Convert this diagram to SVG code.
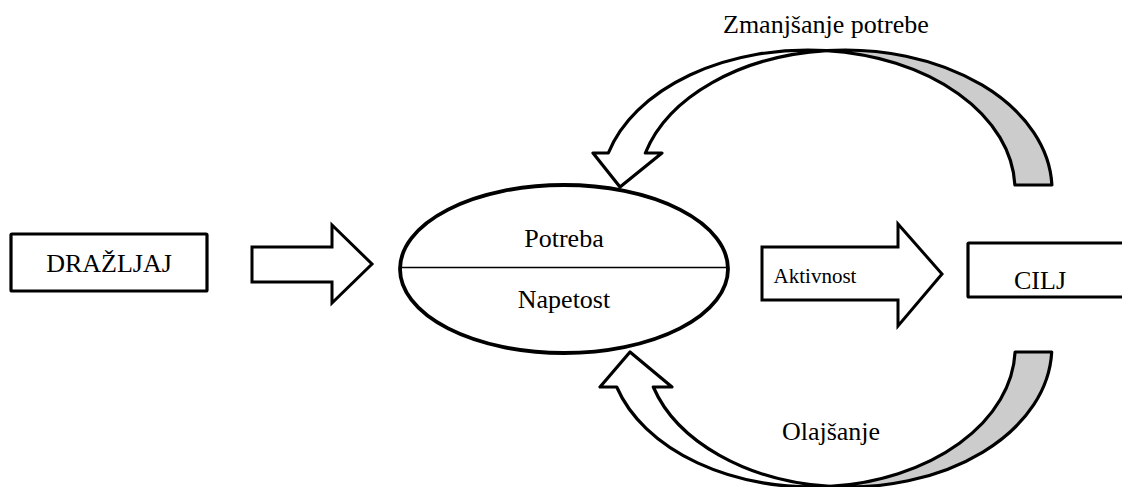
<svg xmlns="http://www.w3.org/2000/svg" width="1122" height="487" viewBox="0 0 1122 487">
<style>
.box{fill:#fff;stroke:#000;stroke-width:3.2}
.arr{fill:#fff;stroke:#000;stroke-width:3;stroke-linejoin:miter}
.front{fill:#fff;stroke:#000;stroke-width:3.2;stroke-linejoin:round}
.back{fill:#cccccc;stroke:#000;stroke-width:3.2;stroke-linejoin:round}
</style>
<rect width="1122" height="487" fill="#fff"/>
<g font-family="'Liberation Serif', 'Times New Roman', serif" font-size="26" fill="#000">
<g id="connectors">
<g id="arrow-stimulus">
<path class="arr" d="M252 247 L332 247 L332 225 L372 264 L332 303 L332 282 L252 282 Z"/>
</g>
<g id="arrow-activity">
<path class="arr" d="M762 247 L898 247 L898 224 L942 274 L898 326 L898 300 L762 300 Z"/>
<text x="815" y="283" text-anchor="middle" font-size="21">Aktivnost</text>
</g>
<g id="arrow-reduction">
<path class="back" d="M826.5 50.56 A207 140 0 0 1 1051.9 185 L1014.9 185 A207 140 0 0 0 826.5 50.56 Z"/>
<path class="front" d="M608.35 153 A207 140 0 0 1 826.5 50.56 A207 140 0 0 0 645.35 153 L662 153 L620 187 L593 153 Z"/>
<text x="723" y="33">Zmanjšanje potrebe</text>
</g>
<g id="arrow-relief">
<path class="back" d="M830 486.43 A203.5 140 0 0 0 1051.7 352 L1015.1 352 A203.5 140 0 0 1 830 486.43 Z"/>
<path class="front" d="M616.7 387 A203.5 140 0 0 0 830 486.43 A203.5 140 0 0 1 653.3 387 L672 387 L630 352 L600 387 Z"/>
<text x="831" y="440" text-anchor="middle">Olajšanje</text>
</g>
</g>
<g id="node-drazljaj">
<rect class="box" x="11" y="234" width="196" height="57" rx="1"/>
<text x="109" y="272" text-anchor="middle">DRAŽLJAJ</text>
</g>
<g id="node-potreba">
<ellipse cx="564" cy="269" rx="164" ry="84" fill="#fff" stroke="#000" stroke-width="3.8"/>
<line x1="401" y1="267.5" x2="727" y2="267.5" stroke="#000" stroke-width="1.5"/>
<text x="564" y="247" text-anchor="middle">Potreba</text>
<text x="564" y="308" text-anchor="middle">Napetost</text>
</g>
<g id="node-cilj">
<rect class="box" x="968" y="243" width="180" height="54" rx="1"/>
<text x="1040" y="289" text-anchor="middle">CILJ</text>
</g>
</g>
</svg>
